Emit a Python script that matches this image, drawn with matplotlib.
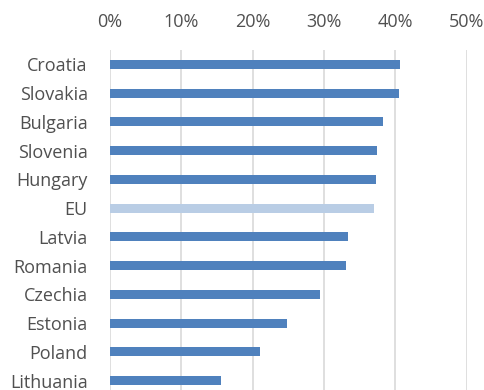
import matplotlib
matplotlib.use("Agg")
import matplotlib.pyplot as plt
from matplotlib.ticker import FuncFormatter

countries = ["Croatia", "Slovakia", "Bulgaria", "Slovenia", "Hungary", "EU",
             "Latvia", "Romania", "Czechia", "Estonia", "Poland", "Lithuania"]
values = [40.7, 40.5, 38.2, 37.4, 37.3, 37.0, 33.4, 33.1, 29.4, 24.8, 21.0, 15.6]
xticks = [0, 10, 20, 30, 40, 50]

dark = "#4F81BD"
light = "#B9CDE5"
colors = [light if c == "EU" else dark for c in countries]

plt.rcParams['font.family'] = ['Open Sans', 'DejaVu Sans']

fig = plt.figure(figsize=(4.84, 3.90), dpi=100)
ax = fig.add_axes([110/484, (390-395)/390, (466.7-110)/484, (395-50)/390])

y = list(range(len(countries)))
ax.barh(y, values, height=0.32, color=colors, zorder=3)
ax.set_ylim(len(countries) - 0.5, -0.5)
ax.set_xlim(0, 50)
ax.set_yticks(y)
ax.set_yticklabels(countries)
ax.set_xticks(xticks)
ax.xaxis.set_major_formatter(FuncFormatter(lambda v, p: f"{int(v)}%"))
ax.xaxis.tick_top()
ax.tick_params(axis='x', length=0, pad=14, labelsize=13, colors="#505050")
ax.tick_params(axis='y', length=0, pad=16, labelsize=13, colors="#505050")
ax.grid(axis='x', color="#D9D9D9", linewidth=1.2, zorder=0)
for s in ax.spines.values():
    s.set_visible(False)

fig.savefig("out.png", dpi=100)
